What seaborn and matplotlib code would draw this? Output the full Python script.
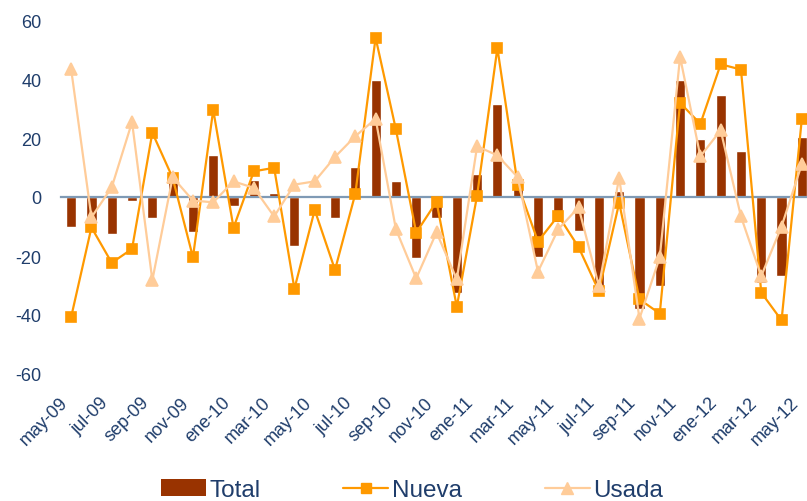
import matplotlib
matplotlib.use("Agg")
import matplotlib.pyplot as plt
import matplotlib.transforms as mtransforms
from matplotlib import font_manager
from matplotlib.patches import Patch
from matplotlib.lines import Line2D
import seaborn as sns
import pandas as pd
import numpy as np

# meses may-09 .. may-12
meses = ["may-09", "jun-09", "jul-09", "ago-09", "sep-09", "oct-09", "nov-09", "dic-09",
         "ene-10", "feb-10", "mar-10", "abr-10", "may-10", "jun-10", "jul-10", "ago-10",
         "sep-10", "oct-10", "nov-10", "dic-10", "ene-11", "feb-11", "mar-11", "abr-11",
         "may-11", "jun-11", "jul-11", "ago-11", "sep-11", "oct-11", "nov-11", "dic-11",
         "ene-12", "feb-12", "mar-12", "abr-12", "may-12"]

total = [-10.0, -8.0, -12.6, -1.3, -7.0, 6.7, -11.8, 14.3,
         -2.9, 5.8, 1.5, -16.6, 0.0, -7.1, 10.3, 39.5,
         5.3, -20.6, -7.1, -32.4, 7.8, 31.6, 5.2, -20.4,
         -8.6, -11.5, -31.3, 1.9, -37.9, -30.2, 39.5, 19.7,
         34.7, 15.6, -29.0, -26.8, 20.4]

nueva = [-40.7, -10.3, -22.3, -17.6, 21.8, 6.5, -20.4, 29.5,
         -10.4, 8.7, 9.9, -31.1, -4.4, -24.7, 1.1, 54.0,
         22.9, -12.1, -1.6, -37.2, 0.5, 50.5, 4.2, -15.1,
         -6.3, -17.0, -31.9, -2.0, -34.7, -39.5, 31.9, 24.8,
         45.0, 43.2, -32.4, -41.8, 26.5]

usada = [43.3, -6.9, 3.3, 25.4, -28.2, 6.7, -1.2, -1.8,
         5.3, 3.1, -6.6, 4.2, 5.3, 13.6, 20.6, 26.5,
         -10.9, -27.6, -12.0, -27.9, 17.2, 14.1, 6.7, -25.3,
         -10.9, -3.5, -30.2, 6.5, -41.2, -20.4, 47.5, 13.8,
         22.6, -6.6, -26.8, -10.0, 11.2]

yticks = [-60, -40, -20, 0, 20, 40, 60]

c_total = "#993300"
c_nueva = "#FF9900"
c_usada = "#FFCC99"
c_text = "#1F3D6B"
c_axis = "#7F9AB5"

df = pd.DataFrame({"mes": meses, "Total": total, "Nueva": nueva, "Usada": usada})

sns.set_style("white")
plt.rcParams["font.family"] = ["Liberation Sans", "DejaVu Sans"]
plt.rcParams["axes.unicode_minus"] = False

avail = {f.name for f in font_manager.fontManager.ttflist}
narrow = "Liberation Sans Narrow" in avail

fig = plt.figure(figsize=(8.07, 5.02), dpi=100)
ax = fig.add_axes([61 / 807, (502 - 375) / 502, 751 / 807, 354 / 502])

sns.barplot(data=df, x="mes", y="Total", color=c_total, width=0.5,
            saturation=1, ax=ax, zorder=2)
sns.pointplot(data=df, x="mes", y="Nueva", color=c_nueva, markers="s",
              markersize=6.8, linewidth=1.6, errorbar=None, ax=ax)
sns.pointplot(data=df, x="mes", y="Usada", color=c_usada, markers="^",
              markersize=8, linewidth=1.6, errorbar=None, ax=ax)
for ln in ax.lines:
    ln.set_zorder(3)

ax.set_xlim(-0.5, 36.5)
ax.set_ylim(-60, 60)
ax.set_xlabel("")
ax.set_ylabel("")
ax.set_yticks(yticks)
ax.tick_params(axis="y", length=0, pad=14, labelsize=13, labelcolor=c_text)

for s in ["top", "right", "left"]:
    ax.spines[s].set_visible(False)
ax.spines["bottom"].set_position(("data", 0))
ax.spines["bottom"].set_color(c_axis)
ax.spines["bottom"].set_linewidth(1.6)
ax.spines["bottom"].set_zorder(2.5)
ax.set_xticks(np.arange(-0.5, 37, 2))
ax.tick_params(axis="x", which="major", length=5, width=1.2, color=c_axis,
               direction="out", labelbottom=False)

sec = ax.secondary_xaxis(0.0)
sec.set_xticks(range(0, len(meses), 2), meses[::2])
sec.spines["bottom"].set_visible(False)
sec.tick_params(length=0, pad=14, labelsize=13, labelcolor=c_text)
shift = mtransforms.ScaledTranslation(-12 / 100, 0, fig.dpi_scale_trans)
for lab in sec.get_xticklabels():
    lab.set_rotation(45)
    lab.set_ha("right")
    lab.set_rotation_mode("anchor")
    lab.set_transform(lab.get_transform() + shift)

handles = [Patch(facecolor=c_total, edgecolor="none"),
           Line2D([], [], color=c_nueva, marker="s", markersize=6.8, lw=1.6),
           Line2D([], [], color=c_usada, marker="^", markersize=8, lw=1.6)]
leg_font = {"family": "Liberation Sans Narrow" if narrow else "Liberation Sans",
            "size": 21 if narrow else 17.5}
leg = fig.legend(handles, ["Total", "Nueva", "Usada"], loc="center", ncol=3,
                 bbox_to_anchor=(412 / 807, 1 - 491 / 502), frameon=False,
                 prop=leg_font, handlelength=1.85, handletextpad=0.15,
                 columnspacing=3.4, borderpad=0, borderaxespad=0)
for t in leg.get_texts():
    t.set_color(c_text)

fig.savefig("out.png", dpi=100)
